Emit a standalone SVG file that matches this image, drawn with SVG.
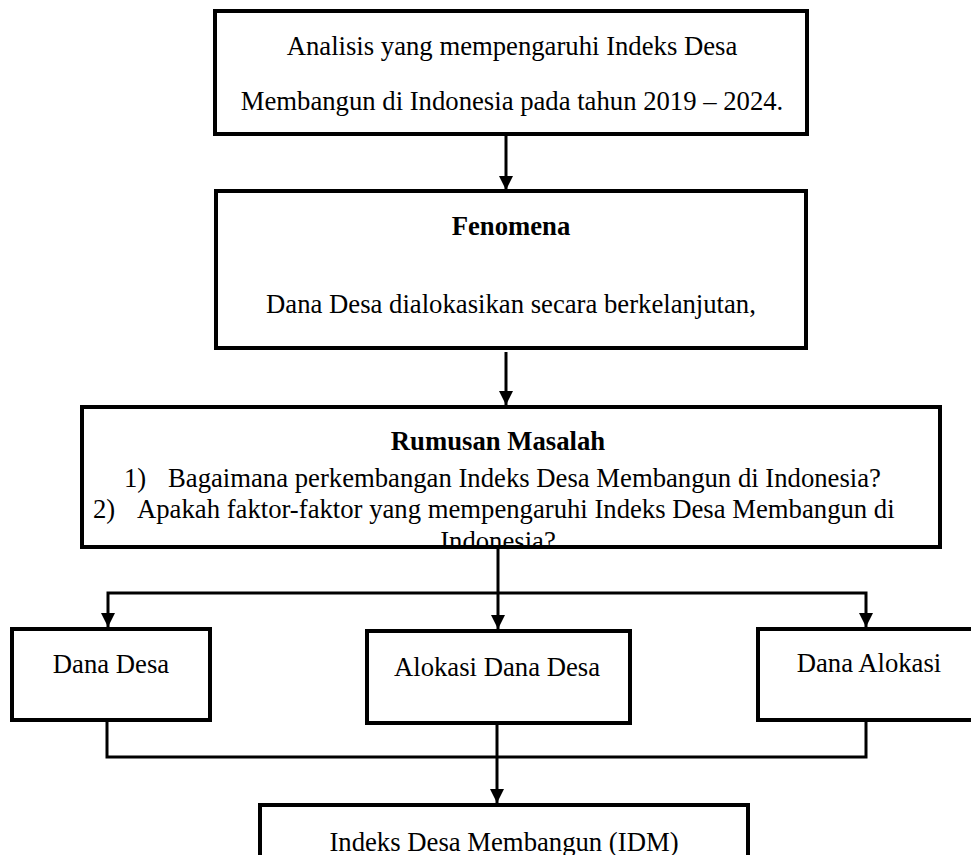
<svg xmlns="http://www.w3.org/2000/svg" width="971" height="855" viewBox="0 0 971 855">
<style>
.box{fill:#fff;stroke:#000;stroke-width:4}
.t{font-family:"Liberation Serif","Times New Roman",serif;font-size:26.7px;fill:#000}
.c{text-anchor:middle}
.b{font-weight:bold}
.ln{fill:none;stroke:#000;stroke-width:3}
</style>
<defs>
<marker id="ah" markerUnits="userSpaceOnUse" markerWidth="14" markerHeight="14" viewBox="0 0 14 14" refX="14" refY="7" orient="auto">
<path d="M0,0 L14,7 L0,14 z" fill="#000"/>
</marker>
<clipPath id="clip3"><rect x="84" y="409" width="854" height="136"/></clipPath>
</defs>
<rect width="971" height="855" fill="#fff"/>
<g id="connectors">
<path class="ln" d="M506,136 V190" marker-end="url(#ah)"/>
<path class="ln" d="M506,352 V405" marker-end="url(#ah)"/>
<path class="ln" d="M498,549 V629" marker-end="url(#ah)"/>
<path class="ln" d="M498,593 H108 V627" marker-end="url(#ah)"/>
<path class="ln" d="M498,593 H866 V627" marker-end="url(#ah)"/>
<path class="ln" d="M107,715 V757 H866 V713"/>
<path class="ln" d="M497,723 V803" marker-end="url(#ah)"/>
</g>
<g id="node-analisis">
<rect class="box" x="215" y="11" width="592" height="123"/>
<text class="t c" x="512" y="55">Analisis yang mempengaruhi Indeks Desa</text>
<text class="t c" x="512" y="110">Membangun di Indonesia pada tahun 2019 – 2024.</text>
</g>
<g id="node-fenomena">
<rect class="box" x="216" y="191" width="590" height="157"/>
<text class="t c b" x="511" y="235">Fenomena</text>
<text class="t c" x="511" y="313">Dana Desa dialokasikan secara berkelanjutan,</text>
</g>
<g id="node-rumusan">
<rect class="box" x="82" y="407" width="858" height="140"/>
<text class="t c b" x="498" y="450">Rumusan Masalah</text>
<g clip-path="url(#clip3)">
<text class="t" x="124" y="487">1)</text>
<text class="t" x="168" y="487">Bagaimana perkembangan Indeks Desa Membangun di Indonesia?</text>
<text class="t" x="93" y="518">2)</text>
<text class="t" x="137" y="518">Apakah faktor-faktor yang mempengaruhi Indeks Desa Membangun di</text>
<text class="t c" x="498" y="550">Indonesia?</text>
</g>
</g>
<g id="node-dana-desa">
<rect class="box" x="12" y="629" width="198" height="91"/>
<text class="t c" x="111" y="673">Dana Desa</text>
</g>
<g id="node-alokasi-dana-desa">
<rect class="box" x="367" y="631" width="263" height="92"/>
<text class="t c" x="497" y="676">Alokasi Dana Desa</text>
</g>
<g id="node-dana-alokasi">
<rect class="box" x="758" y="629" width="225" height="91"/>
<text class="t c" x="869" y="672">Dana Alokasi</text>
</g>
<g id="node-idm">
<rect class="box" x="260" y="805" width="488" height="100"/>
<text class="t c" x="504" y="851">Indeks Desa Membangun (IDM)</text>
</g>
</svg>
